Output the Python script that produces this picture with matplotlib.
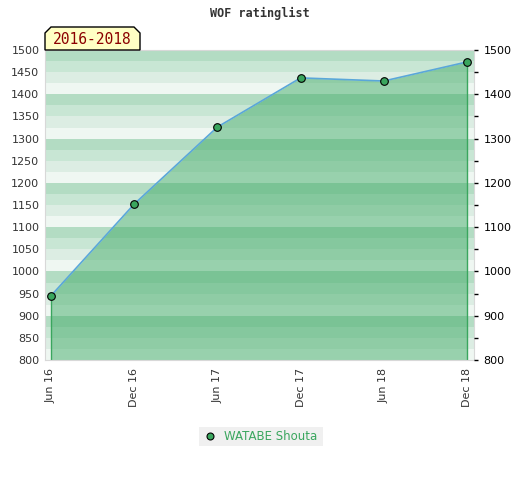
import matplotlib
matplotlib.use("Agg")
from matplotlib import pyplot as plt
from matplotlib.patches import Polygon, Rectangle
import numpy as np

months = ["Jun 16", "Dec 16", "Jun 17", "Dec 17", "Jun 18", "Dec 18"]
ratings = [945, 1152, 1326, 1437, 1430, 1473]
player = "WATABE Shouta"
period = "2016-2018"

band_colors = ["#b3dcc3", "#c8e6d4", "#dcede3", "#eff7f2"]
fill_color = "#43ac69"
marker_color = "#3aa65e"
line_color = "#5aa7d9"

fig = plt.figure(figsize=(5.2, 4.8), dpi=100)
ax = fig.add_axes([45 / 520, 1 - 360 / 480, 429 / 520, 310 / 480])

ymin, ymax = 800, 1500
x = np.arange(len(months))

# striped background, 4 shades in every 100 block
for top in range(ymax, ymin, -100):
    for i, c in enumerate(band_colors):
        ax.axhspan(top - 25 * (i + 1), top - 25 * i, color=c, lw=0, zorder=0)

ax.fill_between(x, ratings, ymin, color=fill_color, alpha=0.5, lw=0, zorder=1)
ax.vlines([x[0], x[-1]], ymin, [ratings[0], ratings[-1]], color=marker_color, lw=1, zorder=2)
ax.plot(x, ratings, color=line_color, lw=1.2, zorder=3)
ax.plot(x, ratings, "o", color=marker_color, mec="black", mew=0.8, ms=5.5, zorder=4)

ax.set_xlim(-0.072, 5.084)
ax.set_ylim(ymin, ymax)
ax.set_xticks(x)
ax.set_xticklabels(months, rotation=90, fontsize=8, color="#333333")
ax.set_yticks(range(ymin, ymax + 1, 50))
ax.tick_params(axis="y", length=0, labelsize=8, labelcolor="#333333", pad=4)
ax.tick_params(axis="x", length=0, pad=6)
for s in ax.spines.values():
    s.set_color("#d8d8d8")

ax2 = ax.twinx()
ax2.set_ylim(ymin, ymax)
ax2.set_yticks(range(ymin, ymax + 1, 100))
ax2.set_yticks(range(ymin + 50, ymax, 100), minor=True)
ax2.tick_params(axis="y", which="both", length=3, width=1, color="black", labelsize=8, pad=4)
for s in ax2.spines.values():
    s.set_visible(False)

fig.text(0.5, 1 - 13 / 480, "WOF ratinglist", ha="center", va="center",
         fontsize=8.5, fontweight="bold", family="DejaVu Sans Mono", color="#333333")

# period tag above the plot
corners = [(45, 50), (45, 33), (51, 27), (134, 27), (140, 33), (140, 50)]
tag = Polygon([(px / 520, 1 - py / 480) for px, py in corners], closed=True,
              facecolor="#ffffc4", edgecolor="black", lw=1, transform=fig.transFigure)
fig.patches.append(tag)
fig.text(92 / 520, 1 - 40 / 480, period, ha="center", va="center",
         fontsize=10.5, color="#8b0000", family="DejaVu Sans Mono")

# legend
fig.patches.append(Rectangle((199 / 520, 1 - 446 / 480), 124 / 520, 19 / 480,
                             transform=fig.transFigure, facecolor="#f0f0f0", lw=0))
fig.lines.append(plt.Line2D([210 / 520], [1 - 436 / 480], transform=fig.transFigure,
                            marker="o", color=marker_color, mec="black", mew=0.8, ms=5))
fig.text(224 / 520, 1 - 436 / 480, player, ha="left", va="center",
         fontsize=8.5, color=marker_color)

fig.savefig("out.png", dpi=100)
